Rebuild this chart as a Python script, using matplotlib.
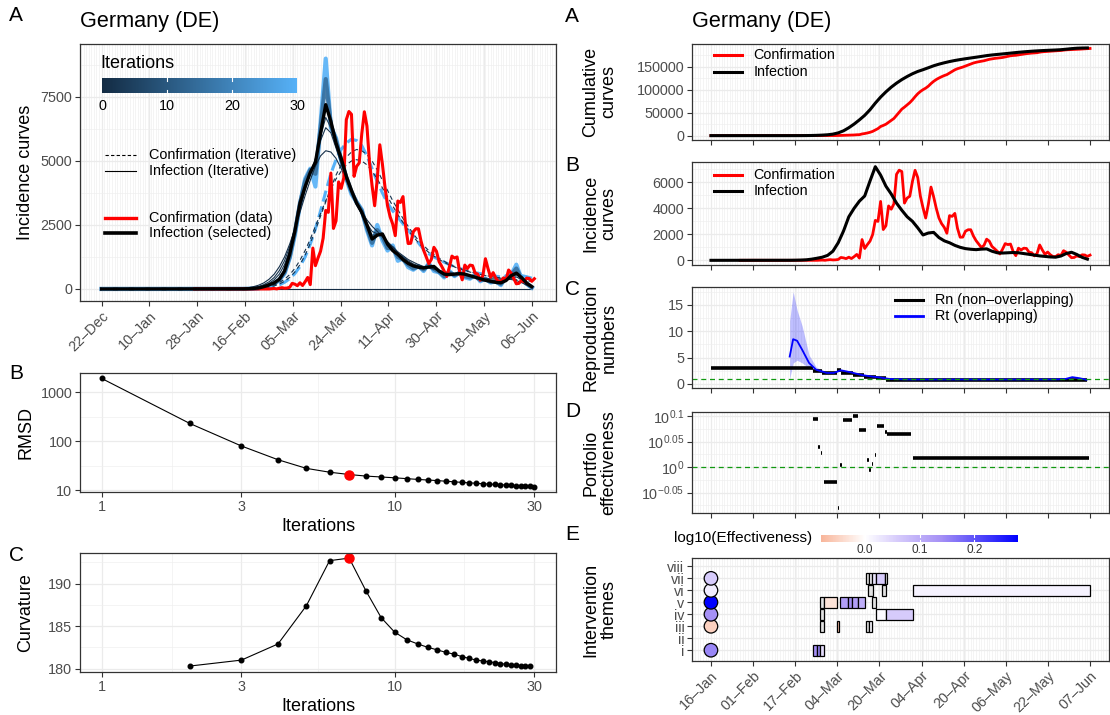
import numpy as np
import matplotlib
matplotlib.use("Agg")
import matplotlib.pyplot as plt
from matplotlib.colors import LinearSegmentedColormap, Normalize
from matplotlib.cm import ScalarMappable
from matplotlib.patches import Rectangle
from matplotlib.ticker import FixedLocator, MultipleLocator, NullFormatter

plt.rcParams["font.family"] = ["Liberation Sans", "DejaVu Sans"]

# ---- data (x = days since 22-Dec-2019) ----
left_ticks = np.linspace(0, 167, 10)
left_tick_labels = ["22–Dec", "10–Jan", "28–Jan", "16–Feb", "05–Mar",
                    "24–Mar", "11–Apr", "30–Apr", "18–May", "06–Jun"]
right_ticks = np.linspace(25, 168, 10)
right_tick_labels = ["16–Jan", "01–Feb", "17–Feb", "04–Mar", "20–Mar",
                     "04–Apr", "20–Apr", "06–May", "22–May", "07–Jun"]

# daily confirmed cases, 27-Jan .. 07-Jun
conf_days = np.arange(36, 169)
conf_data = [1, 3, 0, 0, 1,
             3, 2, 2, 0, 0, 1, 1, 0, 0, 0, 2, 0, 0, 0, 0, 0, 0, 0, 0, 0,
             0, 0, 0, 0, 1, 10, 19, 2, 31,
             51, 29, 37, 66, 220, 188, 129, 241, 136, 281, 451, 170, 1597, 910,
             1210, 1477, 1985, 3070, 2993, 4528, 2365, 2660, 4183, 3930, 4337,
             6615, 6933, 6824, 4400, 4790, 4923,
             6064, 6922, 6365, 4933, 4031, 3251, 4289, 5633, 4885, 3990, 3251,
             2821, 2537, 2082, 3436, 3380, 3609, 2458, 1775, 1785, 2237, 2351,
             2352, 1870, 1514, 1257, 988, 1154, 1627, 1470,
             1068, 890, 697, 488, 854, 1284, 1209, 1251, 667, 357, 933, 798,
             933, 913, 620, 583, 342, 513, 1182, 797, 460, 638, 431, 289, 285,
             432, 362, 741, 620, 406, 202,
             219, 342, 280, 425, 410, 300, 400]

# smooth curves every 2 days, 15-Feb .. 06-Jun
grid_days = np.arange(55, 168, 2)
inf_selected = [5, 10, 20, 40, 90, 160, 240, 380, 700, 1350,
                2250, 3350, 4000, 4550, 4950, 6100, 7200, 6550, 5700, 5100,
                4400, 3850, 3350, 3000, 2500, 1950, 2100, 2150, 1750, 1500,
                1350, 1150, 1000, 900, 850, 820, 860, 880, 700, 580,
                560, 580, 600, 580, 520, 460, 400, 340, 300, 260,
                240, 330, 520, 620, 450, 230, 90]
inf_iter1 = [30, 50, 90, 150, 240, 380, 580, 870, 1250, 1750,
             2350, 3000, 3650, 4250, 4800, 5200, 5400, 5350, 5100, 4700,
             4250, 3800, 3400, 3000, 2700, 2450, 2250, 2050, 1850, 1650,
             1450, 1300, 1150, 1050, 950, 880, 820, 770, 720, 670,
             630, 600, 570, 540, 500, 470, 440, 420, 400, 390,
             380, 380, 370, 330, 250, 150, 60]
inf_iter2 = [15, 30, 55, 100, 170, 280, 450, 720, 1100, 1650,
             2350, 3100, 3850, 4500, 5100, 5800, 6300, 6100, 5500, 4900,
             4300, 3750, 3300, 2900, 2550, 2250, 2150, 2050, 1800, 1600,
             1400, 1250, 1100, 980, 900, 850, 830, 800, 720, 650,
             610, 590, 580, 550, 510, 460, 420, 380, 350, 320,
             320, 360, 440, 470, 380, 220, 80]
inf_iter3 = [10, 20, 40, 70, 130, 220, 360, 580, 950, 1500,
             2300, 3200, 3950, 4500, 5000, 5950, 6700, 6300, 5600, 5000,
             4350, 3800, 3320, 2950, 2520, 2100, 2120, 2100, 1780, 1550,
             1380, 1200, 1050, 940, 870, 830, 850, 840, 710, 610,
             580, 585, 590, 565, 515, 460, 410, 360, 320, 290,
             280, 340, 480, 550, 420, 220, 80]
inf_iter15 = [2, 5, 12, 30, 70, 130, 220, 360, 650, 1250,
              2200, 3350, 4200, 4650, 4500, 6300, 8200, 6400, 5800, 5050,
              4350, 3800, 3380, 3050, 2400, 1800, 2300, 2050, 1600, 1600,
              1250, 1150, 950, 800, 880, 760, 930, 780, 670, 500,
              640, 540, 620, 500, 450, 500, 350, 370, 280, 280,
              200, 420, 540, 800, 420, 210, 70]
inf_iter30 = [0, 5, 10, 30, 60, 120, 200, 350, 600, 1200,
              2100, 3300, 4300, 4700, 4000, 6500, 9000, 6300, 5900, 5000,
              4300, 3700, 3400, 3100, 2300, 1700, 2500, 1900, 1500, 1700,
              1100, 1200, 850, 750, 900, 700, 1000, 700, 650, 450,
              700, 500, 650, 450, 400, 550, 300, 400, 250, 300,
              150, 500, 550, 950, 400, 200, 50]
conf_iter1 = [5, 10, 20, 35, 60, 100, 160, 250, 380, 560,
              800, 1120, 1500, 1950, 2450, 2950, 3450, 3900, 4300, 4600,
              4850, 5000, 5050, 5000, 4850, 4600, 4300, 3950, 3600, 3250,
              2900, 2600, 2300, 2050, 1800, 1600, 1430, 1280, 1150, 1040,
              940, 860, 790, 720, 660, 610, 560, 520, 480, 450,
              420, 400, 380, 360, 340, 320, 300]
conf_iter2 = [3, 6, 12, 22, 40, 70, 120, 190, 300, 450,
              660, 950, 1320, 1780, 2300, 2850, 3400, 3950, 4450, 4850,
              5150, 5350, 5450, 5400, 5250, 5000, 4650, 4250, 3850, 3450,
              3100, 2750, 2450, 2150, 1900, 1700, 1500, 1350, 1200, 1080,
              970, 880, 810, 740, 680, 620, 570, 530, 490, 460,
              430, 420, 410, 410, 400, 380, 350]
conf_iter30 = [2, 4, 8, 15, 30, 55, 95, 160, 260, 400,
               600, 880, 1250, 1750, 2350, 3050, 3800, 4500, 5050, 5450,
               5700, 5850, 5800, 5600, 5200, 4700, 4200, 3750, 3350, 3050,
               2800, 2550, 2300, 2050, 1800, 1550, 1380, 1250, 1150, 1050,
               950, 870, 800, 740, 680, 640, 600, 560, 530, 500,
               470, 450, 460, 500, 520, 480, 420]

iterations = np.arange(1, 31)
rmsd = [1900, 230, 80, 42, 28, 23.4, 21, 19.5, 18.7, 18.0, 17.3, 16.7, 16.2,
        15.8, 15.3, 14.9, 14.5, 14.2, 13.9, 13.6, 13.4, 13.2, 13.0, 12.8,
        12.6, 12.5, 12.3, 12.2, 12.0, 11.9]
curv_iter = np.arange(2, 30)
curvature = [180.3, 181.0, 182.9, 187.4, 192.7, 193.0, 189.1, 186.0, 184.3,
             183.4, 182.9, 182.5, 182.2, 181.9, 181.7, 181.4, 181.2, 181.0,
             180.9, 180.8, 180.7, 180.6, 180.5, 180.45, 180.4, 180.35, 180.3,
             180.3]
selected_iter = 7

# reproduction numbers
rn_start = [25, 63.4, 66.7, 72.6, 74.0, 78.6, 82.6, 87.2, 91.2]
rn_end = [63.4, 66.7, 72.6, 74.0, 78.6, 82.6, 87.2, 91.2, 166.7]
rn_val = [2.95, 2.4, 2.1, 2.65, 2.15, 1.65, 1.35, 1.1, 0.82]
rt_days = [54.7, 56.0, 57.5, 59.4, 62.0, 64.7, 68.7, 71.3, 74.0, 76.0, 77.9,
           81.9, 85.9, 88.5, 92.5, 100.0, 120.0, 150.0, 156.0, 158.7, 161.3,
           164.0, 166.7]
rt_mean = [5.2, 8.5, 8.2, 6.5, 4.0, 2.7, 2.1, 2.1, 2.6, 2.4, 2.2, 1.7, 1.4,
           1.25, 0.95, 0.85, 0.85, 0.85, 0.88, 0.95, 1.3, 1.1, 0.8]
rt_lo = [1.0, 4.0, 4.5, 4.0, 3.0, 2.3, 1.9, 2.0, 2.5, 2.3, 2.1, 1.6, 1.35,
         1.2, 0.9, 0.82, 0.82, 0.82, 0.85, 0.9, 1.2, 1.0, 0.75]
rt_hi = [12.0, 17.5, 14.0, 11.0, 5.5, 3.2, 2.3, 2.2, 2.7, 2.5, 2.3, 1.8, 1.45,
         1.3, 1.0, 0.88, 0.88, 0.88, 0.91, 1.0, 1.4, 1.2, 0.85]

# portfolio effectiveness (log10)
pe_start = [63.4, 65.5, 66.5, 67.6, 72.8, 73.8, 74.7, 78.7, 80.7, 84.0, 84.8,
            85.8, 86.8, 87.8, 90.8, 91.5, 101.1]
pe_end = [65.4, 66.0, 67.0, 72.4, 73.3, 74.3, 78.3, 80.5, 83.4, 84.5, 85.3,
          86.3, 87.3, 90.3, 91.3, 100.4, 167.6]
pe_val = [0.094, 0.039, 0.028, -0.030, -0.081, 0.005, 0.093, 0.101, 0.073,
          0.013, -0.005, 0.006, 0.024, 0.081, 0.068, 0.065, 0.018]

# interventions
themes = ["i", "ii", "iii", "iv", "v", "vi", "vii", "viii"]
dot_theme = [1, 3, 4, 5, 6, 7]
dot_eff = [0.15, -0.05, 0.14, 0.28, 0.02, 0.06]
tile_theme = [1, 1, 1, 3, 3, 3, 3, 4, 4, 4, 5, 5, 5, 5, 5, 5, 5,
              6, 6, 6, 7, 7, 7, 7, 7]
tile_start = [63.4, 65.1, 66.0, 66.3, 72.6, 83.4, 84.5, 66.3, 87.2, 91.2,
              66.3, 67.6, 73.6, 76.6, 78.3, 80.3, 85.6,
              84.2, 89.6, 101.1, 83.4, 84.5, 85.6, 87.2, 90.5]
tile_end = [65.1, 66.0, 67.6, 67.6, 73.3, 84.5, 85.6, 67.6, 91.2, 101.1,
            67.6, 72.6, 76.6, 78.3, 80.3, 83.2, 87.2,
            86.2, 91.2, 168.0, 84.5, 85.6, 87.2, 90.5, 91.4]
tile_eff = [0.14, 0.15, 0.04, np.nan, -0.07, np.nan, 0.01, np.nan, 0.005, 0.06,
            np.nan, -0.03, 0.12, 0.14, 0.12, 0.10, np.nan,
            np.nan, np.nan, 0.015, np.nan, 0.01, 0.03, 0.06, np.nan]

# ---- layout helpers ----
W, H = 1110, 715
fig = plt.figure(figsize=(W / 100, H / 100), dpi=100)
GREEN = "#119911"


def box(l, t, r, b):
    return [l / W, 1 - b / H, (r - l) / W, (b - t) / H]


def style(ax):
    ax.set_axisbelow(True)
    for s in ax.spines.values():
        s.set_color("#333333")
        s.set_linewidth(0.9)
    ax.tick_params(which="major", length=3.5, width=0.8, color="#333333",
                   labelcolor="#4D4D4D", labelsize=10.4, pad=2)
    ax.tick_params(which="minor", length=0)
    ax.grid(which="major", color="#EBEBEB", lw=0.9)
    ax.grid(which="minor", color="#EFEFEF", lw=0.45)


def ylab(text, xc, t, b):
    fig.text(xc / W, 1 - (t + b) / 2 / H, text, rotation=90, ha="center",
             va="center", fontsize=13, linespacing=1.1)


def letter(text, x, y):
    fig.text(x / W, 1 - y / H, text, fontsize=15, va="top", ha="left")


def key(ax, x, y, text, fs=10.4, **kw):
    ax.plot([x, x + 0.066], [y, y], transform=ax.transAxes, clip_on=False, **kw)
    ax.text(x + 0.094, y, text, transform=ax.transAxes, va="center",
            ha="left", fontsize=fs)


it_cmap = LinearSegmentedColormap.from_list("it", ["#132B43", "#56B1F7"])


def it_col(k):
    return it_cmap(k / 30)


# ---- left A: incidence with iterations ----
axA = fig.add_axes(box(80, 44, 556, 301))
style(axA)
x0 = np.concatenate([[0], grid_days])
axA.plot([0, 167], [0, 0], color=it_col(0), lw=0.8)
for vals, k in [(inf_iter30, 30), (inf_iter15, 15)]:
    axA.plot(x0, [0] + vals, color=it_col(k), lw=3.0, alpha=0.9)
axA.plot(x0, [0] + conf_iter30, color=it_col(30), lw=2.2, ls="--")
for vals, k in [(inf_iter1, 1), (inf_iter2, 2), (inf_iter3, 3)]:
    axA.plot(x0, [0] + vals, color=it_col(k), lw=0.8)
for vals, k in [(conf_iter1, 1), (conf_iter2, 2)]:
    axA.plot(x0, [0] + vals, color=it_col(k), lw=0.8, ls=(0, (4, 3)))
axA.plot(conf_days, conf_data, color="red", lw=2.2)
axA.plot(x0, [0] + inf_selected, color="black", lw=2.4)
axA.set_xlim(-8.4, 176.4)
axA.set_ylim(-470, 9570)
axA.yaxis.set_major_locator(FixedLocator([0, 2500, 5000, 7500]))
axA.yaxis.set_minor_locator(FixedLocator([1250, 3750, 6250, 8750]))
axA.set_xticks(left_ticks)
axA.set_xticklabels(left_tick_labels, rotation=45, ha="right",
                    rotation_mode="anchor")
axA.xaxis.set_minor_locator(MultipleLocator(1))
key(axA, 0.052, 0.568, "Confirmation (Iterative)", color="black", lw=0.8,
    ls=(0, (3, 2)))
key(axA, 0.052, 0.506, "Infection (Iterative)", color="black", lw=0.8)
key(axA, 0.052, 0.323, "Confirmation (data)", color="red", lw=2.4)
key(axA, 0.052, 0.265, "Infection (selected)", color="black", lw=2.6)
ylab("Incidence curves", 26, 44, 301)
fig.text(80 / W, 1 - 22 / H, "Germany (DE)", fontsize=15.6, va="center")
letter("A", 9, 6)

cax = fig.add_axes(box(102, 78, 297, 93))
cb = fig.colorbar(ScalarMappable(Normalize(0, 30), it_cmap), cax=cax,
                  orientation="horizontal", ticks=[0, 10, 20, 30])
cb.outline.set_visible(False)
cax.tick_params(length=0, labelsize=10.4, pad=4)
for v in [10, 20]:
    cax.axvline(v, 0, 0.2, color="white", lw=0.8)
    cax.axvline(v, 0.8, 1, color="white", lw=0.8)
fig.text(100 / W, 1 - 64 / H, "Iterations", fontsize=13, va="center")

# ---- left B: RMSD ----
axB = fig.add_axes(box(80, 373, 556, 492))
style(axB)
axB.set_xscale("log")
axB.set_yscale("log")
axB.plot(iterations, rmsd, "-o", color="black", lw=0.8, ms=3.3)
axB.plot([selected_iter], [rmsd[selected_iter - 1]], "o", color="red", ms=6.5)
axB.set_xlim(0.843, 35.6)
axB.set_ylim(10 ** 0.966, 10 ** 3.39)
axB.xaxis.set_major_locator(FixedLocator([1, 3, 10, 30]))
axB.xaxis.set_minor_locator(FixedLocator([1.732, 5.477, 17.32]))
axB.yaxis.set_major_locator(FixedLocator([10, 100, 1000]))
axB.yaxis.set_minor_locator(FixedLocator([31.62, 316.2]))
axB.set_xticklabels(["1", "3", "10", "30"])
axB.set_yticklabels(["10", "100", "1000"])
axB.xaxis.set_minor_formatter(NullFormatter())
axB.yaxis.set_minor_formatter(NullFormatter())
axB.set_xlabel("Iterations", fontsize=13, labelpad=3)
ylab("RMSD", 26, 373, 492)
letter("B", 9, 364)

# ---- left C: curvature ----
axC = fig.add_axes(box(80, 553, 556, 672))
style(axC)
axC.set_xscale("log")
axC.plot(curv_iter, curvature, "-o", color="black", lw=0.8, ms=3.3)
axC.plot([selected_iter], [curvature[selected_iter - 2]], "o", color="red",
         ms=6.5)
axC.set_xlim(0.843, 35.6)
axC.set_ylim(179.6, 193.6)
axC.xaxis.set_major_locator(FixedLocator([1, 3, 10, 30]))
axC.xaxis.set_minor_locator(FixedLocator([1.732, 5.477, 17.32]))
axC.set_xticklabels(["1", "3", "10", "30"])
axC.xaxis.set_minor_formatter(NullFormatter())
axC.yaxis.set_major_locator(FixedLocator([180, 185, 190]))
axC.yaxis.set_minor_locator(FixedLocator([182.5, 187.5, 192.5]))
axC.set_xlabel("Iterations", fontsize=13, labelpad=3)
ylab("Curvature", 26, 553, 672)
letter("C", 9, 546)


# ---- right column ----
def right_axes(t, b):
    ax = fig.add_axes(box(692, t, 1109, b))
    style(ax)
    ax.set_xlim(17.85, 175.15)
    ax.set_xticks(right_ticks)
    ax.xaxis.set_minor_locator(MultipleLocator(1))
    return ax


rA = right_axes(44, 140)
cum_conf = np.cumsum(conf_data)
cum_inf = np.cumsum(inf_selected) * 2
rA.plot(np.concatenate([[25], conf_days]), [0] + list(cum_conf), color="red",
        lw=2.0)
rA.plot(np.concatenate([[25], grid_days]), [0] + list(cum_inf), color="black",
        lw=2.2)
rA.set_ylim(-9500, 199500)
rA.yaxis.set_major_locator(FixedLocator([0, 50000, 100000, 150000]))
rA.yaxis.set_minor_locator(FixedLocator([25000, 75000, 125000, 175000]))
rA.set_yticklabels(["0", "50000", "100000", "150000"])
rA.tick_params(labelbottom=False)
key(rA, 0.053, 0.885, "Confirmation", color="red", lw=2.2)
key(rA, 0.053, 0.71, "Infection", color="black", lw=2.2)
ylab("Cumulative\ncurves", 600, 44, 140)
fig.text(692 / W, 1 - 22 / H, "Germany (DE)", fontsize=15.6, va="center")
letter("A", 565, 7)

rB = right_axes(162, 265)
rB.plot(conf_days, conf_data, color="red", lw=2.0)
rB.plot(np.concatenate([[25], grid_days]), [0] + inf_selected, color="black",
        lw=2.2)
rB.set_ylim(-360, 7560)
rB.yaxis.set_major_locator(FixedLocator([0, 2000, 4000, 6000]))
rB.yaxis.set_minor_locator(FixedLocator([1000, 3000, 5000, 7000]))
rB.tick_params(labelbottom=False)
key(rB, 0.053, 0.875, "Confirmation", color="red", lw=2.2)
key(rB, 0.053, 0.72, "Infection", color="black", lw=2.2)
ylab("Incidence\ncurves", 600, 162, 265)
letter("B", 565, 156)

rC = right_axes(287, 388)
rC.fill_between(rt_days, rt_lo, rt_hi, color="#0000FF", alpha=0.25, lw=0)
rC.hlines(rn_val, rn_start, rn_end, color="black", lw=2.6)
rC.plot(rt_days, rt_mean, color="#0000FF", lw=1.3)
rC.axhline(1, color=GREEN, lw=0.9, ls=(0, (4, 3)))
rC.set_ylim(-0.76, 18.4)
rC.yaxis.set_major_locator(FixedLocator([0, 5, 10, 15]))
rC.yaxis.set_minor_locator(FixedLocator([2.5, 7.5, 12.5, 17.5]))
rC.tick_params(labelbottom=False)
key(rC, 0.488, 0.875, "Rn (non–overlapping)", color="black", lw=2.2)
key(rC, 0.488, 0.715, "Rt (overlapping)", color="#0000FF", lw=2.0)
ylab("Reproduction\nnumbers", 600, 287, 388)
letter("C", 565, 280)

rD = right_axes(412, 513)
rD.hlines(pe_val, pe_start, pe_end, color="black", lw=2.6)
rD.axhline(0, color=GREEN, lw=0.9, ls=(0, (4, 3)))
rD.set_ylim(-0.090, 0.108)
rD.yaxis.set_major_locator(FixedLocator([-0.05, 0, 0.05, 0.1]))
rD.yaxis.set_minor_locator(FixedLocator([-0.075, -0.025, 0.025, 0.075]))
rD.set_yticklabels([r"$\mathregular{10^{-0.05}}$", r"$\mathregular{10^{0}}$",
                    r"$\mathregular{10^{0.05}}$", r"$\mathregular{10^{0.1}}$"])
rD.tick_params(labelbottom=False)
ylab("Portfolio\neffectiveness", 600, 412, 513)
letter("D", 565, 402)

eff_cmap = LinearSegmentedColormap.from_list(
    "eff", [(0.0, "#F8B59A"), (0.222, "#FFFFFF"), (0.389, "#D6CBFB"),
            (0.611, "#A590F5"), (1.0, "#0000FF")])
eff_norm = Normalize(-0.08, 0.28)

rE = right_axes(558, 661)
for th, s, e, v in zip(tile_theme, tile_start, tile_end, tile_eff):
    fc = "#E2E2E2" if np.isnan(v) else eff_cmap(eff_norm(v))
    rE.add_patch(Rectangle((s, th - 0.47), e - s, 0.94, facecolor=fc,
                           edgecolor="black", lw=0.9, zorder=3))
rE.scatter([25] * len(dot_theme), dot_theme, s=95,
           c=[eff_cmap(eff_norm(v)) for v in dot_eff], edgecolors="black",
           linewidths=0.9, zorder=4)
rE.set_ylim(0.1, 8.7)
rE.yaxis.set_major_locator(FixedLocator(range(1, 9)))
rE.set_yticklabels(themes)
rE.set_xticklabels(right_tick_labels, rotation=45, ha="right",
                   rotation_mode="anchor")
ylab("Intervention\nthemes", 600, 558, 661)
letter("E", 565, 525)

cax2 = fig.add_axes(box(821, 535, 1018, 542))
cb2 = fig.colorbar(ScalarMappable(eff_norm, eff_cmap), cax=cax2,
                   orientation="horizontal", ticks=[0.0, 0.1, 0.2])
cb2.outline.set_visible(False)
cax2.set_xticklabels(["0.0", "0.1", "0.2"])
cax2.tick_params(length=0, labelsize=8.5, pad=1.5, labelcolor="#333333")
for v in [0.0, 0.1, 0.2]:
    cax2.axvline(v, 0, 0.25, color="white", lw=0.8)
    cax2.axvline(v, 0.75, 1, color="white", lw=0.8)
fig.text(812 / W, 1 - 538 / H, "log10(Effectiveness)", fontsize=11,
         ha="right", va="center")

fig.savefig("out.png", dpi=100)
